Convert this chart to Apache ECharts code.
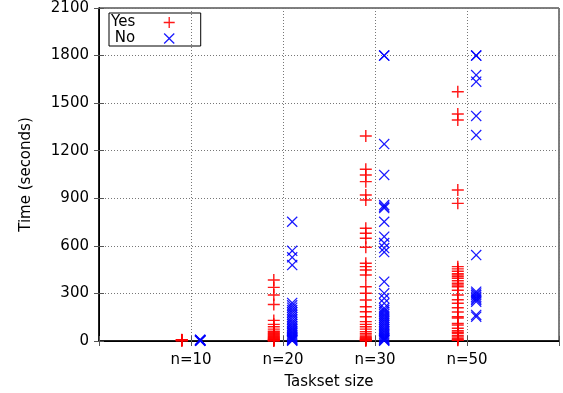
<!DOCTYPE html>
<html><head><meta charset="utf-8">
<script src="https://cdn.jsdelivr.net/npm/echarts@6/dist/echarts.min.js"></script>
<style>html,body{margin:0;padding:0;background:#fff}#c{width:563px;height:393px}</style>
</head><body><div id="c"></div>
<script>
// Category labels (x positions 1..4) and y tick labels
const categories = ['n=10', 'n=20', 'n=30', 'n=50'];
const yTickLabels = [0, 300, 600, 900, 1200, 1500, 1800, 2100];

// "Yes" series values (seconds), per taskset size
const yes10 = [8, 6, 5, 4, 3, 2];
const yes20 = [385, 338, 290, 230, 130, 105, 90, 75, 62, 55, 48, 42, 36, 30, 25, 20, 16, 12, 9, 6, 4, 2, 1];
const yes30 = [1293, 1083, 1047, 1005, 921, 889, 711, 679, 648, 591, 490, 469, 448, 416, 342, 301, 259, 216, 185, 153, 122, 105, 90, 75, 59, 48, 38, 27, 20, 14, 9, 6, 3, 1];
const yes50 = [1572, 1431, 1394, 952, 868, 469, 455, 440, 425, 416, 405, 395, 380, 364, 353, 342, 320, 290, 260, 238, 210, 183, 153, 145, 111, 101, 80, 65, 55, 48, 35, 25, 15, 8, 4];

// "No" series values (seconds), per taskset size
const no10 = [8, 6, 5, 4, 3, 2, 1];
const no20 = [752, 569, 528, 479, 240, 225, 210, 195, 180, 165, 150, 135, 120, 108, 96, 85, 75, 65, 56, 48, 40, 32, 25, 19, 14, 9, 5, 2];
const no30 = [1800, 1800, 1242, 1047, 857, 847, 838, 752, 658, 618, 586, 561, 374, 301, 269, 238, 208, 195, 183, 170, 158, 146, 134, 122, 110, 98, 86, 75, 64, 54, 44, 35, 27, 20, 14, 9, 5, 2];
const no50 = [1800, 1800, 1677, 1635, 1419, 1299, 542, 311, 300, 290, 279, 268, 259, 248, 164, 153];

const yesGroups = [yes10, yes20, yes30, yes50];
const noGroups = [no10, no20, no30, no50];

const plusPath = 'path://M4.4,0H5.6V4.4H10V5.6H5.6V10H4.4V5.6H0V4.4H4.4Z';
const crossPath = 'path://M0,0.8L0.8,0L5,4.2L9.2,0L10,0.8L5.8,5L10,9.2L9.2,10L5,5.8L0.8,10L0,9.2L4.2,5Z';

function toPoints(groups, offset) {
  const pts = [];
  groups.forEach((arr, i) => arr.forEach(v => pts.push([i + 1 + offset, v])));
  return pts;
}

const chart = echarts.init(document.getElementById('c'), null, {renderer: 'canvas'});
const font = 'DejaVu Sans';
const gridLine = {show: true, lineStyle: {color: '#777', type: [1, 2], width: 1}};

chart.setOption({
  animation: false,
  backgroundColor: '#fff',
  textStyle: {fontFamily: font},
  grid: {left: 99, right: 4, top: 8, bottom: 52, show: true, borderColor: '#000', borderWidth: 1,
         containLabel: false, outerBoundsMode: 'none'},
  legend: {
    orient: 'vertical', left: 109, top: 13, align: 'right',
    itemWidth: 58, itemHeight: 11, itemGap: 1,
    padding: [2, 26, 0, 2],
    borderColor: '#000', borderWidth: 1,
    textStyle: {fontFamily: font, fontSize: 15, color: '#000'},
    data: ['Yes', 'No']
  },
  xAxis: [{
    type: 'value', min: 0, max: 5, interval: 1,
    name: 'Taskset size', nameLocation: 'middle', nameGap: 34,
    nameTextStyle: {fontFamily: font, fontSize: 15, color: '#000'},
    axisLine: {show: true, lineStyle: {color: '#000', width: 1.5}},
    axisTick: {show: true, inside: true, length: 5, lineStyle: {color: '#555'}},
    axisLabel: {
      fontFamily: font, fontSize: 15, color: '#000', margin: 12,
      formatter: v => (v >= 1 && v <= categories.length) ? categories[v - 1] : ''
    },
    splitLine: gridLine
  }, {
    type: 'value', min: 0, max: 5, interval: 1, position: 'top',
    axisLine: {show: true, lineStyle: {color: '#000'}},
    axisTick: {show: true, inside: true, length: 5, lineStyle: {color: '#555'}},
    axisLabel: {show: false}, splitLine: {show: false}
  }],
  yAxis: [{
    type: 'value', min: yTickLabels[0], max: yTickLabels[yTickLabels.length - 1], interval: 300,
    name: 'Time (seconds)', nameLocation: 'middle', nameGap: 65,
    nameTextStyle: {fontFamily: font, fontSize: 15, color: '#000'},
    axisLine: {show: true, lineStyle: {color: '#000', width: 1.5}},
    axisTick: {show: true, inside: true, length: 5, lineStyle: {color: '#555'}},
    axisLabel: {fontFamily: font, fontSize: 15, color: '#000', margin: 10, formatter: v => String(v)},
    splitLine: gridLine
  }, {
    type: 'value', min: 0, max: 2100, interval: 300, position: 'right',
    axisLine: {show: true, lineStyle: {color: '#000'}},
    axisTick: {show: true, inside: true, length: 5, lineStyle: {color: '#555'}},
    axisLabel: {show: false}, splitLine: {show: false}
  }],
  series: [{
    name: 'Yes', type: 'scatter', symbol: plusPath, symbolSize: 12,
    itemStyle: {color: '#ff0000', opacity: 0.9},
    data: toPoints(yesGroups, -0.1)
  }, {
    name: 'No', type: 'scatter', symbol: crossPath, symbolSize: 11,
    itemStyle: {color: '#0000ff', opacity: 0.9},
    data: toPoints(noGroups, 0.1)
  }]
});
</script></body></html>
